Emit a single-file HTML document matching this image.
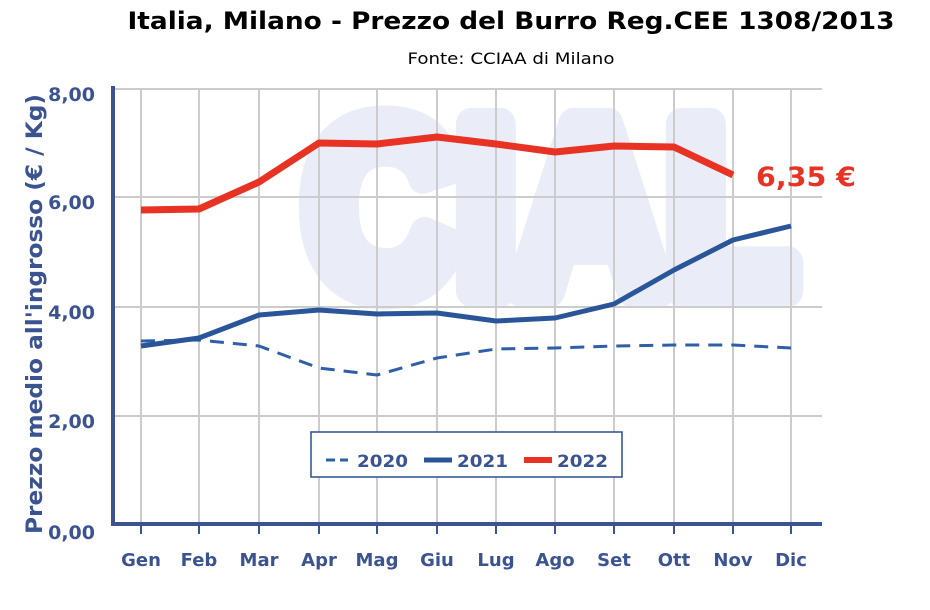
<!DOCTYPE html>
<html><head><meta charset="utf-8"><style>
html,body{margin:0;padding:0;background:#fff;}
svg{display:block;font-family:"DejaVu Sans","Liberation Sans",sans-serif;}
</style></head><body>
<svg width="930" height="610" viewBox="0 0 930 610" xmlns="http://www.w3.org/2000/svg">
<text x="511" y="29" text-anchor="middle" font-size="24" font-weight="bold" fill="#000" textLength="767" lengthAdjust="spacingAndGlyphs">Italia, Milano - Prezzo del Burro Reg.CEE 1308/2013</text>
<text x="511" y="64" text-anchor="middle" font-size="16" fill="#000" textLength="207" lengthAdjust="spacingAndGlyphs">Fonte: CCIAA di Milano</text>
<text x="550" y="290" text-anchor="middle" font-size="240" font-weight="bold" fill="#eaedf8" stroke="#eaedf8" stroke-width="34" stroke-linejoin="round" font-family="Liberation Sans,sans-serif" textLength="490" lengthAdjust="spacingAndGlyphs">CIAL</text>
<g stroke="#cccccc" stroke-width="2">
<line x1="113" y1="89" x2="822" y2="89"/><line x1="113" y1="197" x2="822" y2="197"/><line x1="113" y1="307" x2="822" y2="307"/><line x1="113" y1="416" x2="822" y2="416"/>
<line x1="141" y1="89" x2="141" y2="524"/><line x1="199" y1="89" x2="199" y2="524"/><line x1="259" y1="89" x2="259" y2="524"/><line x1="319" y1="89" x2="319" y2="524"/><line x1="377" y1="89" x2="377" y2="524"/><line x1="437" y1="89" x2="437" y2="524"/><line x1="496" y1="89" x2="496" y2="524"/><line x1="555" y1="89" x2="555" y2="524"/><line x1="614" y1="89" x2="614" y2="524"/><line x1="674" y1="89" x2="674" y2="524"/><line x1="733" y1="89" x2="733" y2="524"/><line x1="791" y1="89" x2="791" y2="524"/>
</g>
<g stroke="#3b5391" stroke-width="4" fill="none">
<polyline points="113,86 113,524 822,524"/>
</g>
<g stroke="#3b5391" stroke-width="2">
<line x1="141" y1="524" x2="141" y2="534"/><line x1="199" y1="524" x2="199" y2="534"/><line x1="259" y1="524" x2="259" y2="534"/><line x1="319" y1="524" x2="319" y2="534"/><line x1="377" y1="524" x2="377" y2="534"/><line x1="437" y1="524" x2="437" y2="534"/><line x1="496" y1="524" x2="496" y2="534"/><line x1="555" y1="524" x2="555" y2="534"/><line x1="614" y1="524" x2="614" y2="534"/><line x1="674" y1="524" x2="674" y2="534"/><line x1="733" y1="524" x2="733" y2="534"/><line x1="791" y1="524" x2="791" y2="534"/>
</g>
<g font-size="19" font-weight="bold" fill="#3b5391" text-anchor="end">
<text x="95" y="101">8,00</text><text x="95" y="209">6,00</text><text x="95" y="319">4,00</text><text x="95" y="428">2,00</text><text x="95" y="539">0,00</text>
</g>
<g font-size="18" font-weight="bold" fill="#3b5391" text-anchor="middle">
<text x="141" y="566">Gen</text><text x="199" y="566">Feb</text><text x="259" y="566">Mar</text><text x="319" y="566">Apr</text><text x="377" y="566">Mag</text><text x="437" y="566">Giu</text><text x="496" y="566">Lug</text><text x="555" y="566">Ago</text><text x="614" y="566">Set</text><text x="674" y="566">Ott</text><text x="733" y="566">Nov</text><text x="791" y="566">Dic</text>
</g>
<text transform="translate(42,314) rotate(-90)" text-anchor="middle" font-size="22" font-weight="bold" fill="#3b5391" textLength="440" lengthAdjust="spacingAndGlyphs">Prezzo medio all'ingrosso (€ / Kg)</text>
<g fill="none" stroke-linejoin="round">
<polyline stroke="#2f5fa6" stroke-width="3" stroke-dasharray="14,9" points="141,341 199,340 259,346 319,368 377,375 437,358 496,349 555,348 614,346 674,345 733,345 791,348"/>
<polyline stroke="#2a5699" stroke-width="5" points="141,346 199,338 259,315 319,310 377,314 437,313 496,321 555,318 614,304 674,270 733,240 791,226"/>
<polyline stroke="#e83324" stroke-width="7" points="141,210 199,209 259,182 319,143 377,144 437,137 496,144 555,152 614,146 674,147 733,175"/>
</g>
<text x="756" y="186" font-size="27" font-weight="bold" fill="#e83324" textLength="100" lengthAdjust="spacingAndGlyphs">6,35 €</text>
<rect x="311" y="432" width="311" height="45" fill="#fff" stroke="#2a4f8f" stroke-width="1.5"/>
<line x1="326" y1="460" x2="348" y2="460" stroke="#2f5fa6" stroke-width="3" stroke-dasharray="9,5"/>
<text x="357" y="467" font-size="17" font-weight="bold" fill="#3b5391" textLength="51" lengthAdjust="spacingAndGlyphs">2020</text>
<line x1="424" y1="460" x2="452" y2="460" stroke="#2a5699" stroke-width="5"/>
<text x="457" y="467" font-size="17" font-weight="bold" fill="#3b5391" textLength="51" lengthAdjust="spacingAndGlyphs">2021</text>
<line x1="524" y1="460" x2="552" y2="460" stroke="#e83324" stroke-width="6"/>
<text x="557" y="467" font-size="17" font-weight="bold" fill="#3b5391" textLength="51" lengthAdjust="spacingAndGlyphs">2022</text>
</svg>
</body></html>
